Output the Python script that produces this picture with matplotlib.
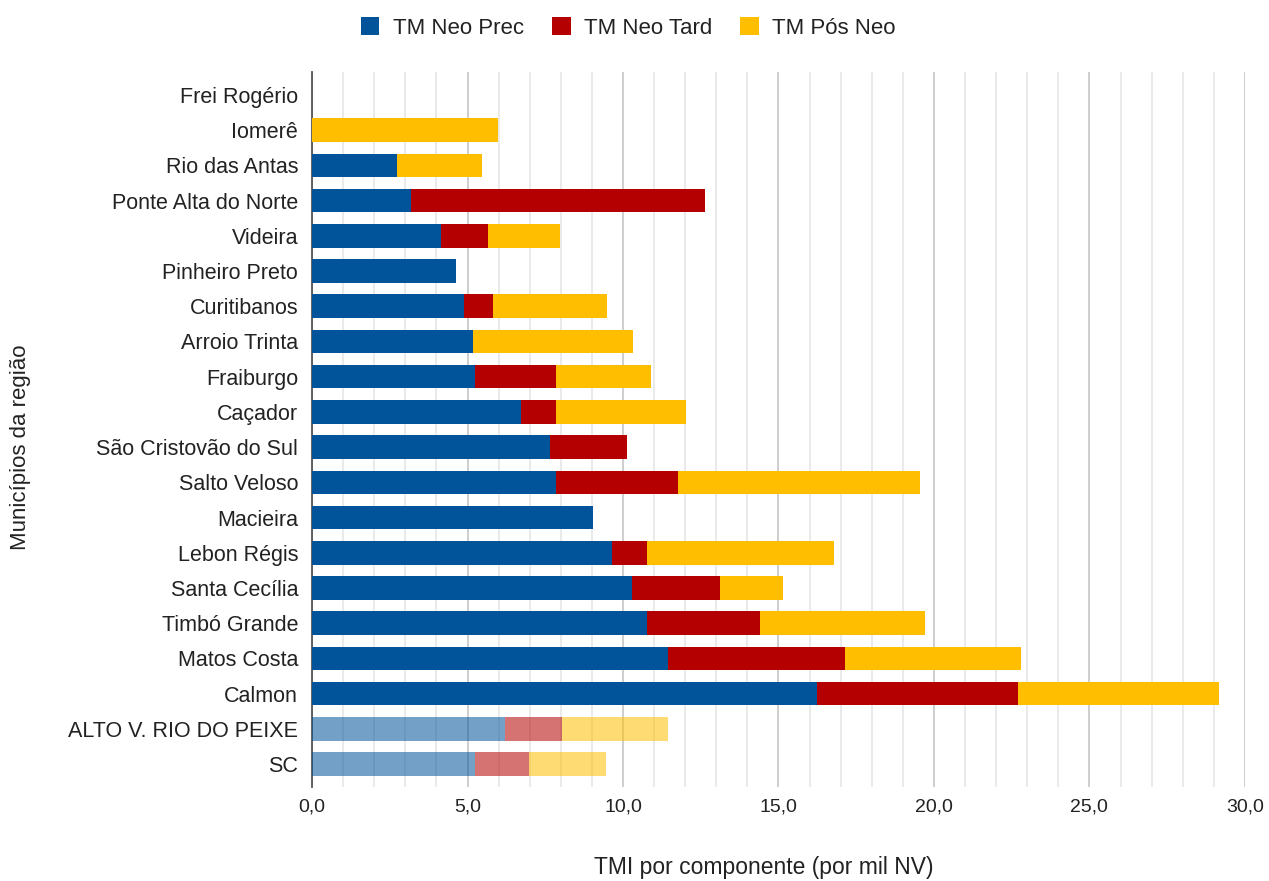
import matplotlib.pyplot as plt
import numpy as np
from matplotlib.ticker import MultipleLocator, FuncFormatter
from matplotlib.patches import Patch

plt.rcParams['font.family'] = ['Liberation Sans', 'DejaVu Sans']

municipios = ['Frei Rogério', 'Iomerê', 'Rio das Antas', 'Ponte Alta do Norte', 'Videira',
              'Pinheiro Preto', 'Curitibanos', 'Arroio Trinta', 'Fraiburgo', 'Caçador',
              'São Cristovão do Sul', 'Salto Veloso', 'Macieira', 'Lebon Régis',
              'Santa Cecília', 'Timbó Grande', 'Matos Costa', 'Calmon',
              'ALTO V. RIO DO PEIXE', 'SC']
neo_prec = [0, 0, 2.74, 3.17, 4.14, 4.62, 4.89, 5.17, 5.24, 6.71,
            7.64, 7.85, 9.02, 9.64, 10.30, 10.77, 11.44, 16.24, 6.20, 5.24]
neo_tard = [0, 0, 0, 9.46, 1.52, 0, 0.94, 0, 2.61, 1.14,
            2.50, 3.92, 0, 1.13, 2.81, 3.62, 5.69, 6.47, 1.83, 1.74]
pos_neo = [0, 5.99, 2.74, 0, 2.30, 0, 3.65, 5.14, 3.06, 4.18,
           0, 7.79, 0, 6.00, 2.02, 5.33, 5.67, 6.45, 3.41, 2.46]
series = ['TM Neo Prec', 'TM Neo Tard', 'TM Pós Neo']
cores = ['#01539a', '#b40000', '#ffbe00']

# the last two rows (region and state) are drawn faded
destaque = [False] * 18 + [True, True]

fig = plt.figure(figsize=(12.69, 8.81), dpi=100)
ax = fig.add_axes([0.2459, 0.1067, 0.981 - 0.2459, 0.9183 - 0.1067])

y = np.arange(len(municipios))
esquerda = np.zeros(len(municipios))
for nome, valores, cor in zip(series, [neo_prec, neo_tard, pos_neo], cores):
    valores = np.array(valores)
    for i in range(len(municipios)):
        if valores[i] <= 0:
            continue
        ax.barh(y[i], valores[i], left=esquerda[i], height=0.67, color=cor,
                alpha=0.55 if destaque[i] else 1.0, linewidth=0, zorder=3)
    esquerda += valores

ax.set_xlim(0, 30)
ax.set_ylim(len(municipios) - 0.35, -0.65)
ax.set_yticks(y)
ax.set_yticklabels(municipios, fontsize=15.5, color='#222222')
ax.xaxis.set_major_locator(MultipleLocator(5))
ax.xaxis.set_minor_locator(MultipleLocator(1))
ax.xaxis.set_major_formatter(FuncFormatter(lambda v, p: f'{v:.1f}'.replace('.', ',')))
ax.tick_params(axis='x', labelsize=14, colors='#222222', length=0, pad=8, which='both')
ax.tick_params(axis='y', length=0, pad=10)
ax.grid(axis='x', which='major', color='#c6c6c6', linewidth=1.2, zorder=0)
ax.grid(axis='x', which='minor', color='#e6e6e6', linewidth=1.2, zorder=0)
ax.set_axisbelow(True)

for s in ['top', 'right', 'bottom']:
    ax.spines[s].set_visible(False)
ax.spines['left'].set_color('#555555')
ax.spines['left'].set_linewidth(1.3)

ax.set_xlabel('TMI por componente (por mil NV)', fontsize=16.5, color='#222222')
ax.xaxis.set_label_coords(0.4845, -0.0965)
ax.set_ylabel('Municípios da região', fontsize=16, color='#222222')
ax.yaxis.set_label_coords(-0.301, 0.4755)

handles = [Patch(facecolor=c, edgecolor='none', label=n) for n, c in zip(series, cores)]
fig.legend(handles=handles, loc='upper center', bbox_to_anchor=(0.495, 1.003), ncol=3,
           frameon=False, fontsize=16, handlelength=0.85, handleheight=0.85,
           columnspacing=1.25, handletextpad=0.6, labelcolor='#222222')

fig.savefig('out.png', dpi=100)
